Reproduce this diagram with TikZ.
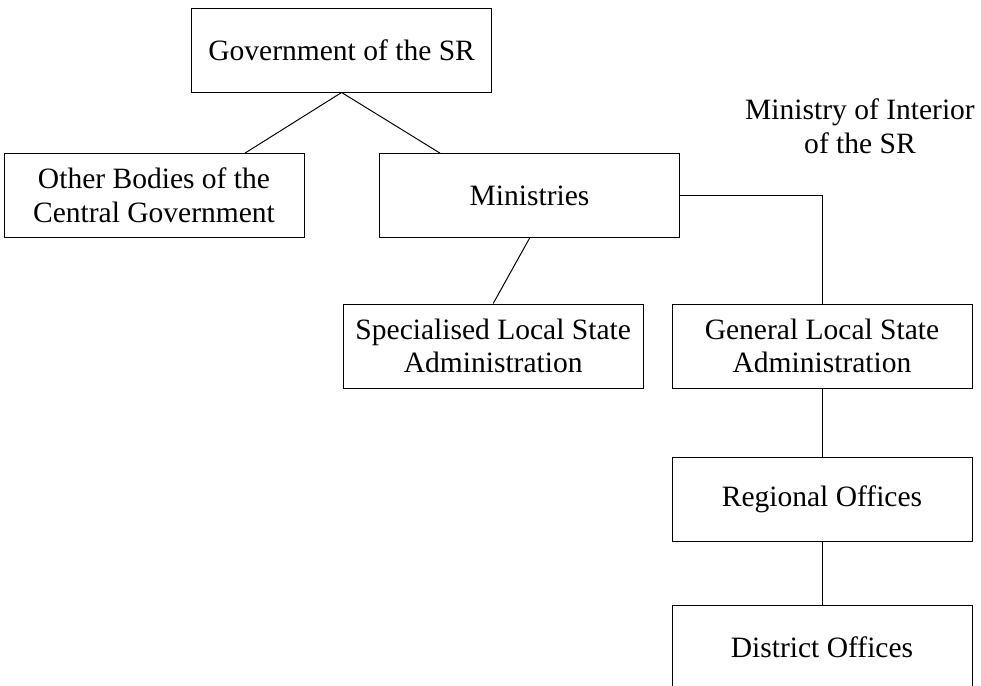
\documentclass[tikz,border=0pt]{standalone}
\usepackage{fontspec}
\setmainfont{Liberation Serif}
\usetikzlibrary{positioning, calc}

\begin{document}
\begin{tikzpicture}[
			orgnode/.style={draw, rectangle, line width=0.7pt, minimum width=7.5cm, minimum height=2.1cm, inner sep=0pt, align=center, font=\fontsize{21}{24}\selectfont},
			link/.style={line width=0.7pt}
			]
			\useasboundingbox (0, 0) rectangle (24.525, -17.15);
			\clip (0, 0) rectangle (24.525, -17.15);
			
			% Boxes
			\node[orgnode] (gov) at (8.54, -1.25) {Government of the SR};
			\node[orgnode] (other) at (3.85, -4.89) {Other Bodies of the \\ Central Government};
			\node[orgnode] (min) at (13.24, -4.89) {Ministries};
			\node[orgnode] (spec) at (12.33, -8.65) {Specialised Local State \\ Administration};
			\node[orgnode] (gen) at (20.55, -8.65) {General Local State \\ Administration};
			\node[orgnode] (reg) at (20.55, -12.49) {Regional Offices};
			\node[orgnode] (dist) at (20.55, -16.18) {District Offices};
			
			% Label
			\node[align=center, font=\fontsize{21}{24}\selectfont] (interior) at (21.5, -3.16) {Ministry of Interior \\ of the SR};
			
			% Links
			\draw[link] (gov.south) -- ([xshift=2.275cm]other.north);
			\draw[link] (gov.south) -- ([xshift=-2.24cm]min.north);
			\draw[link] (min.south) -- (spec.north);
			\draw[link] (min.east) -| (gen.north);
			\draw[link] (gen.south) -- (reg.north);
			\draw[link] (reg.south) -- (dist.north);
		\end{tikzpicture}
\end{document}
